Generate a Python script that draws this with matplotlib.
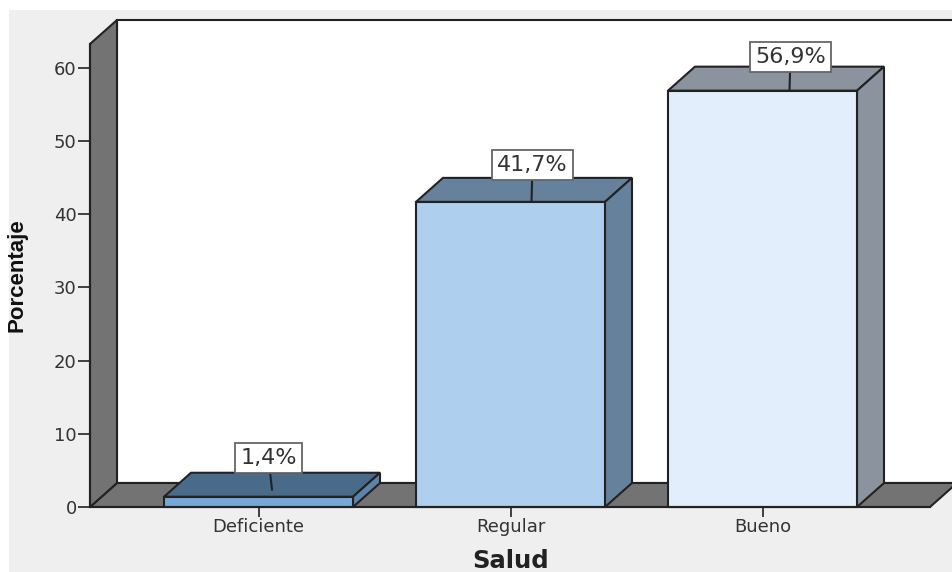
import matplotlib
matplotlib.use("Agg")
import matplotlib.pyplot as plt
from matplotlib.patches import Polygon, Rectangle

categories = ["Deficiente", "Regular", "Bueno"]
values = [1.4, 41.7, 56.9]
value_labels = ["1,4%", "41,7%", "56,9%"]
y_ticks = [0, 10, 20, 30, 40, 50, 60]

front_colors = ["#76a9d8", "#aecfee", "#e2eefb"]
top_colors = ["#4a6a8a", "#66819b", "#8a939e"]
side_colors = ["#5b83ab", "#66819b", "#8a939e"]

W, H = 952, 572
LINE = "#222222"
TEXT = "#333333"
WALL = "#737373"

fig = plt.figure(figsize=(W / 100, H / 100), dpi=100, facecolor="white")
fig.patches.append(Rectangle((9 / W, 0), 1 - 9 / W, 1 - 10 / H, transform=fig.transFigure,
                             facecolor="#efefef", edgecolor="none", figure=fig, zorder=-1))

ax = fig.add_axes([90 / W, (H - 507) / H, 840 / W, 463 / H])
ax.patch.set_visible(False)
px_x = 1 / 252.0
px_y = 1 / 7.317
x0 = -168.5 * px_x
x1 = x0 + 840 * px_x
ymax = 463 * px_y
ax.set_xlim(x0, x1)
ax.set_ylim(0, ymax)
dx, dy = 27 * px_x, 24 * px_y
bar_w = 189 * px_x


def poly(pts, fc, z):
    ax.add_patch(Polygon(pts, closed=True, facecolor=fc, edgecolor=LINE, linewidth=1.5,
                         joinstyle="miter", clip_on=False, zorder=z))


# back wall, side wall, floor
xr = x0 + 900 * px_x
poly([(x0 + dx, dy), (xr, dy), (xr, ymax + dy), (x0 + dx, ymax + dy)], "white", 1)
poly([(x0, 0), (x1, 0), (x1 + dx, dy), (x0 + dx, dy)], WALL, 2)
poly([(x0, 0), (x0, ymax), (x0 + dx, ymax + dy), (x0 + dx, dy)], WALL, 2)

# bars
xs = list(range(len(categories)))
ax.bar(xs, values, width=bar_w, color=front_colors, edgecolor=LINE, linewidth=1.5, zorder=4,
       clip_on=False)
for x, v, tc, sc in zip(xs, values, top_colors, side_colors):
    l, r = x - bar_w / 2, x + bar_w / 2
    poly([(l, v), (r, v), (r + dx, v + dy), (l + dx, v + dy)], tc, 3)
    poly([(r, 0), (r, v), (r + dx, v + dy), (r + dx, dy)], sc, 3)

# value labels with leader lines (pixel offsets from bar top centre)
anchor_px = [(13.5, 7), (21, 0), (27, 0)]
text_px = [(10, -39), (22, -37), (28, -33.5)]
for x, v, s, (ax_px, ay_px), (tx_px, ty_px) in zip(xs, values, value_labels, anchor_px, text_px):
    ax.annotate(s, xy=(x + ax_px * px_x, v + ay_px * px_y),
                xytext=(x + tx_px * px_x, v - ty_px * px_y),
                ha="center", va="center", fontsize=16, color=TEXT, family="DejaVu Sans",
                bbox=dict(boxstyle="square,pad=0.22", facecolor="white", edgecolor="#666666", linewidth=1.3),
                arrowprops=dict(arrowstyle="-", color=LINE, linewidth=1.5, shrinkA=0, shrinkB=0),
                zorder=6, annotation_clip=False)

# axes
for name in ("top", "right"):
    ax.spines[name].set_visible(False)
for name in ("left", "bottom"):
    ax.spines[name].set_color(LINE)
    ax.spines[name].set_linewidth(1.5)
    ax.spines[name].set_zorder(5)
ax.set_yticks(y_ticks)
ax.set_xticks(xs)
ax.set_xticklabels(categories)
ax.tick_params(axis="y", length=8.5, width=1.2, color=LINE, labelsize=13, labelcolor=TEXT, pad=1)
ax.tick_params(axis="x", length=7, width=1.2, color=LINE, labelsize=13, labelcolor=TEXT, pad=1)

ax.set_ylabel("Porcentaje", family="Liberation Sans", fontweight="bold", fontsize=16, color="#111111",
              va="center")
ax.yaxis.set_label_coords((17 - 90) / 840, (507 - 275) / 463)
ax.set_xlabel("Salud", family="DejaVu Sans", fontweight="bold", fontsize=17.5, color="#222222", va="center")
ax.xaxis.set_label_coords((511 - 90) / 840, (507 - 561) / 463)

fig.savefig("out.png", dpi=100, facecolor=fig.get_facecolor())
